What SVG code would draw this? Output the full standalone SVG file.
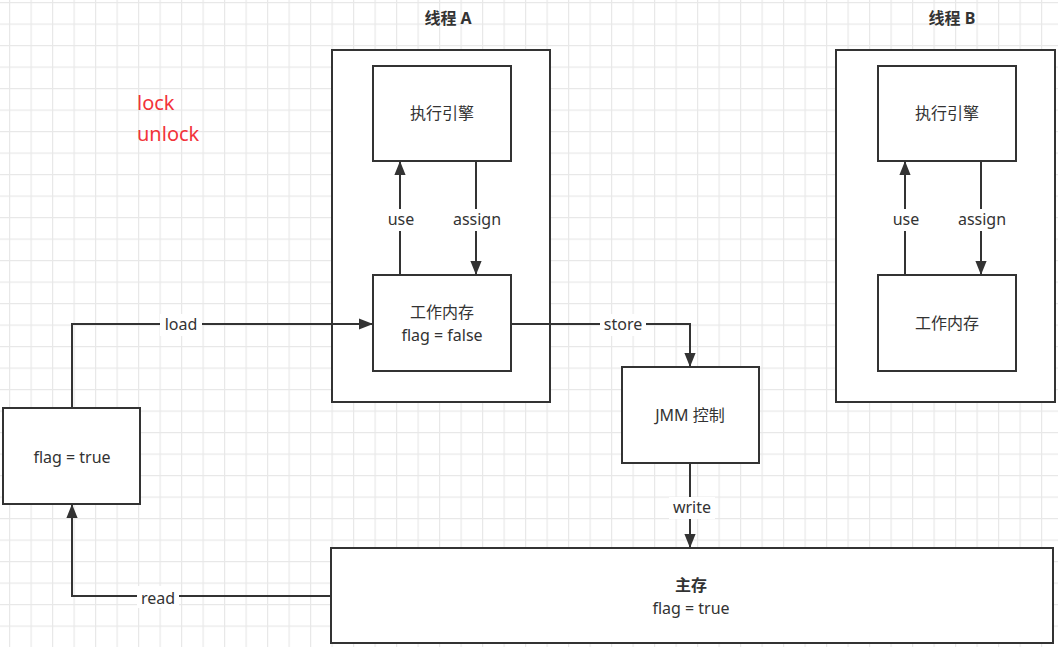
<svg xmlns="http://www.w3.org/2000/svg" width="1058" height="647" viewBox="0 0 1058 647">
<defs>
<pattern id="g" width="21.5" height="21.5" patternUnits="userSpaceOnUse" x="9" y="2">
<rect x="0" y="0" width="21.5" height="1.2" fill="#e8e8e8"/><rect x="0" y="0" width="1.2" height="21.5" fill="#e8e8e8"/>
</pattern>
<marker id="m" viewBox="0 0 10 10" refX="10" refY="5" markerWidth="14" markerHeight="14" orient="auto" markerUnits="userSpaceOnUse"><path d="M0 1L10 5L0 9Z" fill="#333"/></marker>
</defs>
<style>
rect.b{fill:#fff;stroke:#333;stroke-width:2}
text{font-family:"Noto Sans","Noto Sans CJK SC",sans-serif;font-size:16px;fill:#333;text-anchor:middle}
.t{font-weight:bold}
.c path{fill:none;stroke:#333;stroke-width:2;marker-end:url(#m)}
.l{fill:#fff}
</style>
<rect width="1058" height="647" fill="#fff"/>
<rect width="1058" height="647" fill="url(#g)"/>
<text x="137" y="110" style="fill:#f2333a;text-anchor:start;font-size:20px">lock</text>
<text x="137" y="141" style="fill:#f2333a;text-anchor:start;font-size:20px">unlock</text>
<g id="threadA"><rect class="b" x="332" y="50" width="218" height="352"/><text class="t" x="448" y="24">线程 A</text></g>
<g id="threadB"><rect class="b" x="836" y="50" width="219" height="352"/><text class="t" x="952" y="24">线程 B</text></g>
<g id="execA"><rect class="b" x="373" y="66" width="138" height="95"/><text x="442" y="119">执行引擎</text></g>
<g id="memA"><rect class="b" x="373" y="275" width="138" height="96"/><text x="442" y="318">工作内存</text><text x="442" y="341">flag = false</text></g>
<g id="execB"><rect class="b" x="878" y="66" width="138" height="95"/><text x="947" y="119">执行引擎</text></g>
<g id="memB"><rect class="b" x="878" y="275" width="138" height="96"/><text x="947" y="329">工作内存</text></g>
<g id="flagBox"><rect class="b" x="3" y="408" width="137" height="96"/><text x="72" y="463">flag = true</text></g>
<g id="jmm"><rect class="b" x="622" y="367" width="137" height="96"/><text x="690" y="421">JMM 控制</text></g>
<g id="main"><rect class="b" x="331" y="548" width="722" height="95"/><text class="t" x="691" y="591">主存</text><text x="691" y="614">flag = true</text></g>
<g class="c" id="connectors">
<path d="M400 275V161"/><path d="M476 161V275"/>
<path d="M905 275V161"/><path d="M981 161V275"/>
<path d="M72 408V324H373"/>
<path d="M511 324H690V367"/>
<path d="M690 463V548"/>
<path d="M331 596H72V504"/>
<rect class="l" x="384" y="209" width="34" height="22" style="stroke:none"/><text x="401" y="225">use</text>
<rect class="l" x="448" y="209" width="58" height="22" style="stroke:none"/><text x="477" y="225">assign</text>
<rect class="l" x="889" y="209" width="34" height="22" style="stroke:none"/><text x="906" y="225">use</text>
<rect class="l" x="953" y="209" width="58" height="22" style="stroke:none"/><text x="982" y="225">assign</text>
<rect class="l" x="160" y="314" width="42" height="22" style="stroke:none"/><text x="181" y="330">load</text>
<rect class="l" x="600" y="314" width="46" height="22" style="stroke:none"/><text x="623" y="330">store</text>
<rect class="l" x="669" y="497" width="46" height="22" style="stroke:none"/><text x="692" y="513">write</text>
<rect class="l" x="137" y="586" width="42" height="22" style="stroke:none"/><text x="158" y="604">read</text>
</g>
</svg>
